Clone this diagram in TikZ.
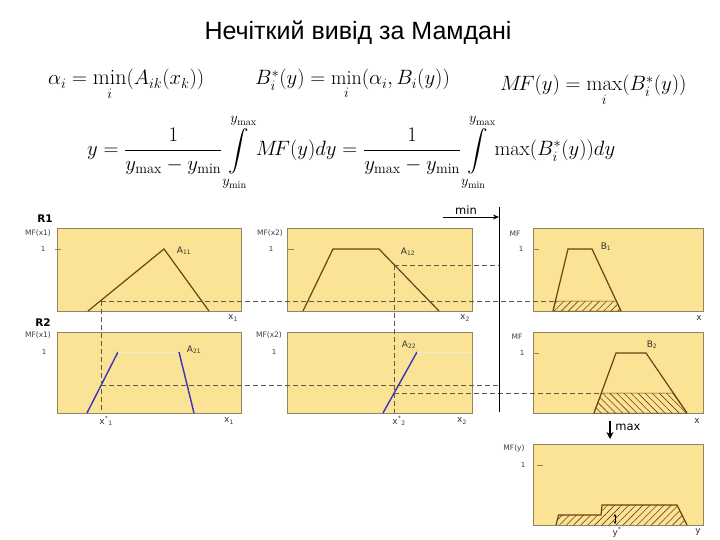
\documentclass[tikz,border=0pt]{standalone}
\usepackage{amsmath}
\usepackage{amssymb}
\usepackage{fontspec}
\newfontfamily\titlefont{Liberation Sans}
\newfontfamily\plotfont{DejaVu Sans}
\usepackage{tikz}
\usetikzlibrary{calc, positioning, arrows.meta, patterns.meta}

\definecolor{panelfill}{RGB}{251,227,150}
\definecolor{panelline}{RGB}{150,132,96}
\definecolor{mfbrown}{RGB}{105,66,22}
\definecolor{mfblue}{RGB}{60,50,190}
\definecolor{paleline}{RGB}{240,234,212}
\definecolor{cutgray}{RGB}{95,88,70}

\begin{document}
\begin{tikzpicture}[x=1pt,y=-1pt,
        panel/.style={draw=panelline,fill=panelfill,line width=1pt},
        mfline/.style={draw=mfbrown,line width=1.2pt},
        blueline/.style={draw=mfblue,line width=1.4pt},
        cutline/.style={draw=cutgray,dash pattern=on 5pt off 3pt,line width=0.7pt},
        hatchne/.style={pattern={Lines[angle=45,distance=5pt,line width=0.6pt]},pattern color=mfbrown},
        hatchnw/.style={pattern={Lines[angle=-45,distance=5pt,line width=0.6pt]},pattern color=mfbrown},
        lbl/.style={font=\plotfont\fontsize{7.5}{8}\selectfont,text=black!75,inner sep=0pt},
        onelbl/.style={font=\plotfont\fontsize{7}{8}\selectfont,text=black!75,inner sep=0pt},
        axlbl/.style={font=\plotfont\fontsize{9}{10}\selectfont,text=black!80,inner sep=0pt},
        rowlbl/.style={font=\plotfont\bfseries\fontsize{10.5}{12}\selectfont,inner sep=0pt},
        oplbl/.style={font=\plotfont\fontsize{11.5}{13}\selectfont,inner sep=0pt},
        formula/.style={font=\fontsize{21}{25}\selectfont,inner sep=0pt}]
        \useasboundingbox (0,0) rectangle (720,540);
        \coordinate (c11) at (101,301);
        \coordinate (c12) at (394,265);
        \coordinate (c21) at (101,385);
        \coordinate (c22) at (394,393);
        \coordinate (x1bot) at (101,413);
        \coordinate (x2bot) at (394,413);
        \coordinate (b1cut) at (555.4,301);
        \coordinate (b2cut) at (601.7,393);
        \coordinate (divtop) at (499,207);
        \coordinate (divbot) at (499,412);
        % title and formulas
        \node[font=\titlefont\fontsize{25}{30}\selectfont] (title) at (358,33) {Нечіткий вивід за Мамдані};
        \node[formula,font=\fontsize{22}{26}\selectfont,anchor=base west] (alpha) at (48,85) {$\alpha_i=\min\limits_i(A_{ik}(x_k))$};
        \node[formula,font=\fontsize{20}{24}\selectfont,anchor=base west] (bstar) at (255,85) {$B_i^*(y)=\min\limits_i(\alpha_i,B_i(y))$};
        \node[formula,anchor=base west] (mfmax) at (500,91) {$M\!F(y)=\max\limits_i(B_i^*(y))$};
        \node[formula,font=\fontsize{20.5}{25}\selectfont,anchor=base west] (centroid) at (87,156) {$\displaystyle y=\frac{1}{y_{\max}-y_{\min}}\int\limits_{y_{\min}}^{y_{\max}}M\!F(y)dy=\frac{1}{y_{\max}-y_{\min}}\int\limits_{y_{\min}}^{y_{\max}}\max(B_i^*(y))dy$};
        % panels
        \foreach \t/\b in {229/311, 332/413}
            \foreach \l/\r in {57/241, 287/472, 533/703}
                \draw[panel] (\l,\t) rectangle (\r,\b);
        \draw[panel] (533,444) rectangle (703,525);
        \foreach \l/\y in {55/249, 288/249, 533/249, 533/353, 537/465}
            \draw[panelline,line width=0.7pt] (\l,\y) -- ++(6,0);
        % clipped consequents
        \draw[hatchne,draw=mfbrown,line width=0.5pt] (553,311) -- (b1cut) -- (616.3,301) -- (621,311) -- cycle;
        \draw[hatchnw,draw=mfbrown,line width=0.5pt] (594,413) -- (b2cut) -- (672.6,393) -- (687,413) -- cycle;
        \fill[hatchne] (556,525) -- (558.5,515) -- (601,515) -- (602,505) -- (677,505) -- (687,525) -- cycle;
        % membership functions
        \draw[mfline] (88,311) -- (164,249) -- (209,311);
        \draw[mfline] (303,311) -- (333,249) -- (379,249) -- (439,311);
        \draw[mfline] (553,311) -- (568,249) -- (592,249) -- (621,311);
        \draw[blueline] (87,413) -- (118,352);
        \draw[paleline,line width=0.8pt] (118,352) -- (179,352);
        \draw[blueline] (179,352) -- (194,413);
        \draw[blueline] (383,413) -- (417,352);
        \draw[paleline,line width=0.8pt] (417,352) -- (472,352);
        \draw[mfline] (594,413) -- (616,353) -- (646,353) -- (687,413);
        \draw[mfline] (556,525) -- (558.5,515) -- (601,515) -- (602,505) -- (677,505) -- (687,525);
        % cuts
        \draw[cutline] (c11) -- (b1cut);
        \draw[cutline] (c12) -- (c12 -| divbot);
        \draw[cutline] (c21) -- (c21 -| divbot);
        \draw[cutline] (c22) -- (b2cut);
        \draw[cutline] (c11) -- (x1bot);
        \draw[cutline] (c12) -- (x2bot);
        \draw[line width=1pt] (divtop) -- (divbot);
        \coordinate (minstart) at (443,217);
        \draw[line width=0.8pt,-{Stealth[length=6pt,width=5pt]}] (minstart) -- (minstart -| divtop);
        \draw[line width=1.5pt,-{Stealth[length=7pt,width=7pt]}] (610,421) -- (610,439);
        \draw[line width=0.6pt,{Stealth[length=3pt,width=3pt]}-{Stealth[length=3pt,width=3pt]}] (615,514) -- (615,524);
        % labels
        \node[rowlbl] (r1) at (45,219) {R1};
        \node[rowlbl] (r2) at (43,323) {R2};
        \node[oplbl] (minlbl) at (466,210) {min};
        \node[oplbl] (maxlbl) at (628,427) {max};
        \node[lbl] (mfx11) at (38,233) {MF(x1)};
        \node[lbl] (mfx21) at (270,233) {MF(x2)};
        \node[lbl] (mf1) at (515,234) {MF};
        \node[lbl] (mfx12) at (38,335) {MF(x1)};
        \node[lbl] (mfx22) at (269,335) {MF(x2)};
        \node[lbl] (mf2) at (517,337) {MF};
        \node[lbl] (mfy) at (514,448) {MF(y)};
        \node[onelbl] (one11) at (43,249) {1};
        \node[onelbl] (one21) at (271,249) {1};
        \node[onelbl] (one31) at (521,249) {1};
        \node[onelbl] (one12) at (44,352) {1};
        \node[onelbl] (one22) at (274,352) {1};
        \node[onelbl] (one32) at (522,353) {1};
        \node[onelbl] (oney) at (523,465) {1};
        \node[axlbl] (a11) at (184,251) {A\textsubscript{11}};
        \node[axlbl] (a12) at (408,252) {A\textsubscript{12}};
        \node[axlbl] (b1) at (606,247) {B\textsubscript{1}};
        \node[axlbl] (a21) at (194,350) {A\textsubscript{21}};
        \node[axlbl] (a22) at (409,345) {A\textsubscript{22}};
        \node[axlbl] (b2) at (652,345) {B\textsubscript{2}};
        \node[axlbl] (x11) at (233,318) {x\textsubscript{1}};
        \node[axlbl] (x21) at (465,318) {x\textsubscript{2}};
        \node[axlbl] (xb1) at (699,318) {x};
        \node[axlbl] (xs1) at (106,421) {x\textsuperscript{*}\textsubscript{1}};
        \node[axlbl] (x12) at (229,421) {x\textsubscript{1}};
        \node[axlbl] (xs2) at (399,421) {x\textsuperscript{*}\textsubscript{2}};
        \node[axlbl] (x22) at (462,421) {x\textsubscript{2}};
        \node[axlbl] (xb2) at (697,421) {x};
        \node[axlbl] (ystar) at (617,532) {y\textsuperscript{*}};
        \node[axlbl] (ylbl) at (698,532) {y};
    \end{tikzpicture}
\end{document}
